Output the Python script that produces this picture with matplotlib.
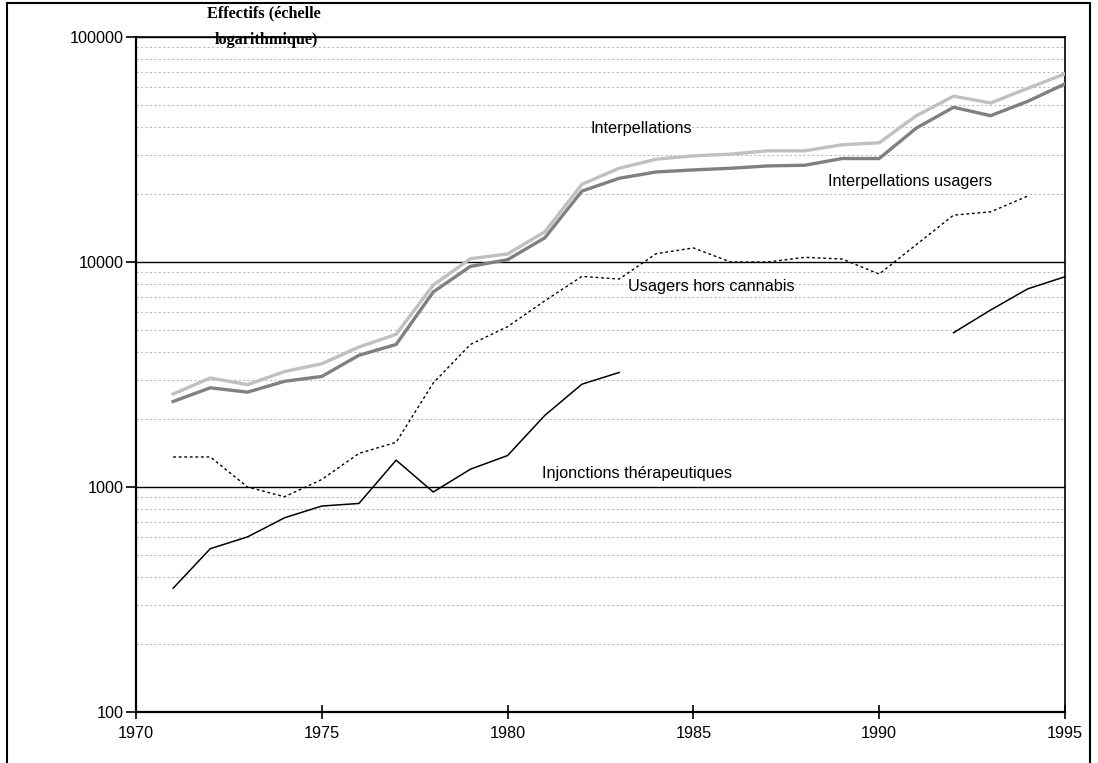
import matplotlib
matplotlib.use('Agg')  # no display in the sandbox
import matplotlib.pyplot as plt
import matplotlib.ticker as mticker
from matplotlib.patches import Rectangle
import numpy as np

# Values (log scale)
years = list(range(1971, 1996))

interpellations = [2590, 3050, 2850, 3260, 3530, 4190, 4770, 7900, 10350, 10860,
                   13610, 22140, 26100, 28630, 29640, 30150, 31200, 31200, 33190, 33870,
                   44700, 54560, 50900, 59180, 68600]

interpellations_usagers = [2400, 2760, 2640, 2950, 3100, 3850, 4300, 7360, 9560, 10240,
                           12800, 20660, 23550, 25130, 25660, 26100, 26730, 26920, 28830, 28830,
                           39380, 48700, 44700, 51800, 61900]

# 1971-1994 (no value for 1995)
usagers_hors_cannabis = [1360, 1360, 1000, 905, 1080, 1410, 1580, 2900, 4300, 5160,
                         6720, 8630, 8400, 10890, 11550, 10000, 10000, 10490, 10310, 8840,
                         11950, 16150, 16710, 19650]

# two pieces: 1971-1983 and 1992-1995
injonctions_early = [355, 532, 600, 730, 823, 845, 1316, 950, 1200, 1380, 2080, 2864, 3228]
injonctions_late = [4850, 6120, 7600, 8600]
years_inj_early = list(range(1971, 1984))
years_inj_late = list(range(1992, 1996))

y_ticks = [100, 1000, 10000, 100000]
y_tick_labels = ['100', '1000', '10000', '100000']
x_ticks = [1970, 1975, 1980, 1985, 1990, 1995]

series_labels = ['Interpellations', 'Interpellations usagers',
                 'Usagers hors cannabis', 'Injonctions thérapeutiques']

plt.rcParams['font.family'] = ['Liberation Sans', 'DejaVu Sans']
fs = 11.7

W, H = 1098, 763
fig = plt.figure(figsize=(W / 100, H / 100), dpi=100)
ax = fig.add_axes([136 / W, 1 - 712 / H, (1065 - 136) / W, (712 - 37) / H])

# the four series
ax.plot(years, interpellations, color='#c0c0c0', lw=2.4, solid_joinstyle='miter', zorder=4)
ax.plot(years, interpellations_usagers, color='#808080', lw=2.4, solid_joinstyle='miter', zorder=4)
ax.plot(years[:len(usagers_hors_cannabis)], usagers_hors_cannabis, color='black', lw=1.0,
        linestyle=(0, (2, 2)), zorder=4)
ax.plot(years_inj_early, injonctions_early, color='black', lw=1.1, zorder=4)
ax.plot(years_inj_late, injonctions_late, color='black', lw=1.1, zorder=4)

# axes setup
ax.set_yscale('log')
ax.set_ylim(100, 100000)
ax.set_xlim(1970, 1995)
ax.yaxis.set_major_locator(mticker.FixedLocator(y_ticks))
ax.yaxis.set_major_formatter(mticker.FixedFormatter(y_tick_labels))
ax.yaxis.set_minor_locator(mticker.LogLocator(base=10, subs=np.arange(2, 10)))
ax.yaxis.set_minor_formatter(mticker.NullFormatter())
ax.set_xticks(x_ticks)

ax.tick_params(axis='y', which='major', direction='out', length=7, width=1.2,
               labelsize=fs, pad=2, colors='black')
ax.tick_params(axis='y', which='minor', length=0)
ax.tick_params(axis='x', which='major', direction='inout', length=10, width=1.2,
               labelsize=fs, pad=5)

# gridlines: solid black at decades, dotted gray for the rest
ax.grid(which='major', axis='y', color='black', lw=1.0, zorder=1)
ax.grid(which='minor', axis='y', color='#bcbcbc', lw=0.8, linestyle=(0, (2, 2)), zorder=1)
ax.set_axisbelow(True)

for side in ['left', 'bottom']:
    ax.spines[side].set_linewidth(1.6)
for side in ['top', 'right']:
    ax.spines[side].set_linewidth(1.2)

# series labels placed next to the lines
ax.text(1982.22, 39400, series_labels[0], fontsize=fs, va='center', ha='left')
ax.text(1988.62, 22900, series_labels[1], fontsize=fs, va='center', ha='left')
ax.text(1983.24, 7820, series_labels[2], fontsize=fs, va='center', ha='left')
ax.text(1980.93, 1143, series_labels[3], fontsize=fs, va='center', ha='left')

# y-axis title (bold serif, two lines)
fig.text(264 / W, 1 - 13 / H, 'Effectifs (échelle', fontsize=fs, fontweight='bold',
         family=['Liberation Serif', 'DejaVu Serif'], ha='center', va='center')
fig.text(266 / W, 1 - 40 / H, 'logarithmique)', fontsize=fs, fontweight='bold',
         family=['Liberation Serif', 'DejaVu Serif'], ha='center', va='center')

# thin frame around the whole chart
fig.patches.append(Rectangle((7 / W, -0.01), (1090 - 7) / W, 1 - 3 / H + 0.01,
                             transform=fig.transFigure, fill=False, edgecolor='black', lw=1.5))

fig.savefig('out.png', dpi=100)
